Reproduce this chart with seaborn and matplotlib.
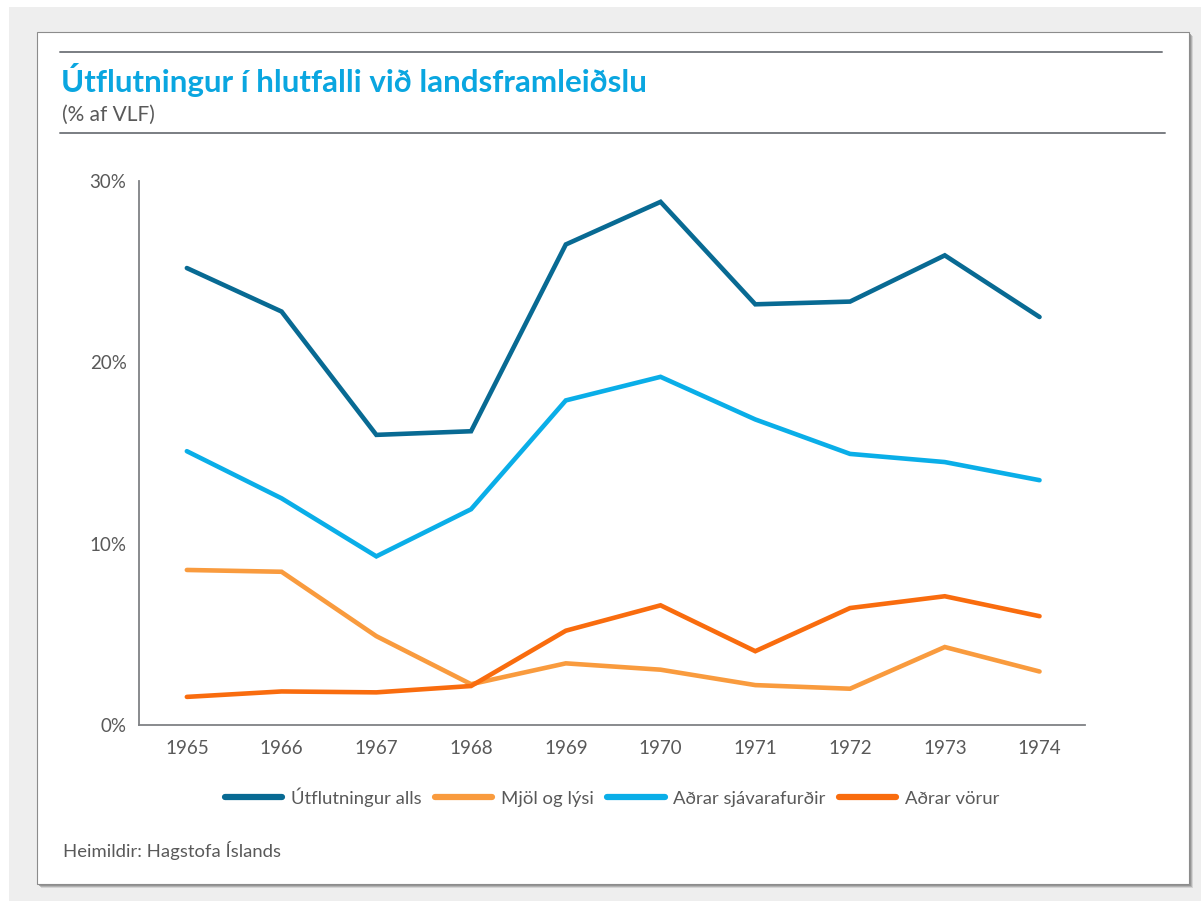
import matplotlib
matplotlib.use("Agg")
import matplotlib.pyplot as plt
import matplotlib.patches as mpatches
import matplotlib.lines as mlines
import matplotlib.ticker as mticker
import seaborn as sns
import pandas as pd

years = [1965, 1966, 1967, 1968, 1969, 1970, 1971, 1972, 1973, 1974]
utflutningur_alls = [25.2, 22.8, 16.0, 16.2, 26.5, 28.85, 23.2, 23.35, 25.9, 22.5]
mjol_og_lysi = [8.55, 8.45, 4.9, 2.25, 3.4, 3.05, 2.2, 2.0, 4.3, 2.95]
adrar_sjavarafurdir = [15.1, 12.5, 9.3, 11.9, 17.9, 19.2, 16.85, 14.95, 14.5, 13.5]
adrar_vorur = [1.55, 1.85, 1.8, 2.15, 5.2, 6.6, 4.07, 6.45, 7.1, 6.0]
series_names = ["Útflutningur alls", "Mjöl og lýsi", "Aðrar sjávarafurðir", "Aðrar vörur"]
series_colors = ["#086a93", "#f99b3e", "#0aaee8", "#f96c0e"]
y_ticks = [0, 10, 20, 30]

title = "Útflutningur í hlutfalli við landsframleiðslu"
subtitle = "(% af VLF)"
source = "Heimildir: Hagstofa Íslands"

sns.set_theme(style="white")
plt.rcParams["font.family"] = ["Lato", "DejaVu Sans"]
TXT = "#595959"

rows = []
for name, vals in zip(series_names, [utflutningur_alls, mjol_og_lysi, adrar_sjavarafurdir, adrar_vorur]):
    for i, (yr, v) in enumerate(zip(years, vals)):
        rows.append({"pos": i, "year": str(yr), "value": v, "series": name})
df = pd.DataFrame(rows)

W, H = 1201, 901
fig = plt.figure(figsize=(W / 100, H / 100), dpi=100)
fig.patch.set_facecolor("white")

def fx(px):
    return px / W

def fy(py):
    return 1 - py / H

# background + card
fig.patches.append(mpatches.Rectangle((fx(9), 0), 1 - fx(9), fy(7), transform=fig.transFigure,
                                      facecolor="#eeeeee", edgecolor="none", zorder=0))
for off, a in [(4, 0.25), (3, 0.45), (2, 0.7)]:
    fig.patches.append(mpatches.Rectangle((fx(37 + off), fy(884 + off)), fx(1189) - fx(37),
                                          fy(32) - fy(884), transform=fig.transFigure,
                                          facecolor="#8a8a8a", edgecolor="none", zorder=1, alpha=a))
fig.patches.append(mpatches.Rectangle((fx(37), fy(884)), fx(1189) - fx(37), fy(32) - fy(884),
                                      transform=fig.transFigure, facecolor="white",
                                      edgecolor="#8c8c8c", linewidth=0.8, zorder=2))
fig.lines.append(mlines.Line2D([fx(60), fx(1162)], [fy(52), fy(52)], transform=fig.transFigure,
                               color="#7a7d82", linewidth=1.4, zorder=3))
fig.lines.append(mlines.Line2D([fx(60), fx(1165)], [fy(133), fy(133)], transform=fig.transFigure,
                               color="#7a7d82", linewidth=1.4, zorder=3))

fig.text(fx(61), fy(80), title, fontsize=22.5, fontweight="bold", color="#0aa6e0",
         va="center", ha="left", zorder=4)
fig.text(fx(62), fy(115), subtitle, fontsize=15, color=TXT, va="center", ha="left", zorder=4)
fig.text(fx(63), fy(851), source, fontsize=13.3, color=TXT, va="center", ha="left", zorder=4)

ax = fig.add_axes([fx(139), fy(725), fx(1085) - fx(139), fy(181) - fy(725)])
ax.set_zorder(5)
ax.patch.set_alpha(0)

sns.lineplot(data=df, x="pos", y="value", hue="series", hue_order=series_names,
             palette=dict(zip(series_names, series_colors)), linewidth=3.3, ax=ax,
             legend=False)
for ln in ax.lines:
    ln.set_solid_capstyle("round")
    ln.set_solid_joinstyle("miter")

ax.set_xlim(-0.505, 9.48)
ax.set_ylim(0, 30)
ax.set_xticks(range(len(years)))
ax.set_xticklabels([str(y) for y in years])
ax.set_yticks(y_ticks)
ax.yaxis.set_major_formatter(mticker.FuncFormatter(lambda v, p: f"{int(v)}%"))
ax.set_xlabel("")
ax.set_ylabel("")
ax.tick_params(axis="both", length=0, labelsize=13.5, colors=TXT)
ax.tick_params(axis="x", pad=11)
ax.tick_params(axis="y", pad=9)
for s in ["top", "right"]:
    ax.spines[s].set_visible(False)
for s in ["left", "bottom"]:
    ax.spines[s].set_color("#7f8185")
    ax.spines[s].set_linewidth(1.3)

handles = [mlines.Line2D([], [], color=c, linewidth=4.5) for c in series_colors]
leg = fig.legend(handles, series_names, loc="center", bbox_to_anchor=(fx(612), fy(797)),
                 ncol=4, frameon=False, fontsize=13.3, handlelength=3.1, handletextpad=0.45,
                 columnspacing=0.75, labelcolor=TXT)
leg.set_zorder(6)

fig.savefig("out.png", dpi=100, facecolor=fig.get_facecolor())
